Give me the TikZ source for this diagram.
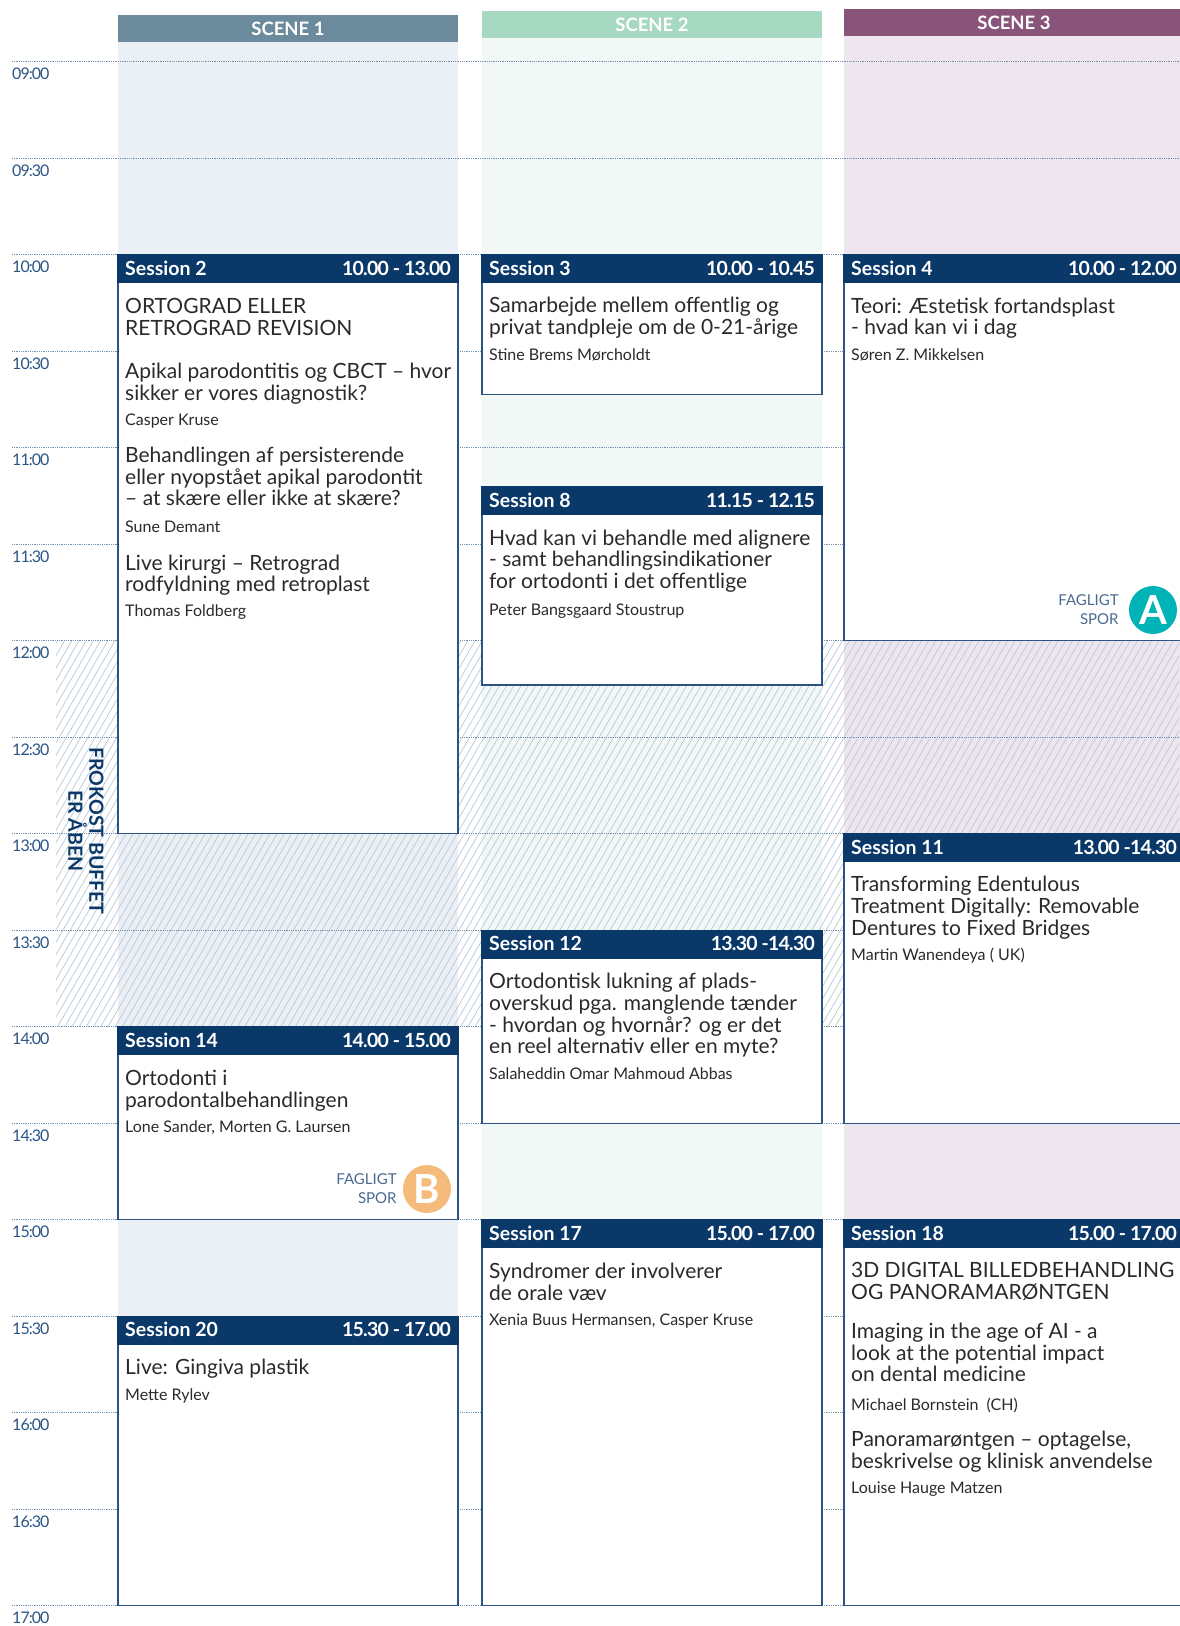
\documentclass[tikz,border=0pt]{standalone}
\usepackage{fontspec}
\setmainfont{Lato}
\usetikzlibrary{positioning}
\definecolor{navy}{HTML}{0A3868}
\definecolor{boxline}{HTML}{2C5384}
\definecolor{timeblue}{HTML}{2A5585}
\definecolor{gridgray}{HTML}{7590AE}
\definecolor{hdone}{HTML}{6B8A9B}
\definecolor{hdtwo}{HTML}{A7D8C1}
\definecolor{hdthree}{HTML}{895479}
\definecolor{bgone}{HTML}{EBF0F4}
\definecolor{bgtwo}{HTML}{F2F8F6}
\definecolor{bgthree}{HTML}{EEE6EE}
\definecolor{hatchblue}{HTML}{BCCADA}
\definecolor{ink}{HTML}{2A2A2A}
\definecolor{sporblue}{HTML}{4A6B8F}
\definecolor{sporteal}{HTML}{00B3B7}
\definecolor{spororange}{HTML}{F4BB7B}

\begin{document}
\begin{tikzpicture}[
    x=1pt, y=-1pt,
    timelabel/.style={anchor=base west, inner sep=0pt, text=timeblue,
        font=\fontsize{16}{16}\selectfont\addfontfeatures{LetterSpace=-6}},
    gridline/.style={gridgray, line width=0.9pt, dash pattern=on 0.9pt off 0.9pt},
    scenehead/.style={text=white, inner sep=0pt, font=\fontsize{18.5}{18.5}\selectfont\bfseries},
    sessbox/.style={draw=boxline, fill=white, line width=1.2pt},
    sessbar/.style={fill=navy},
    sessno/.style={anchor=base west, inner sep=0pt, text=white,
        font=\fontsize{19.5}{19.5}\selectfont\bfseries},
    sesstime/.style={anchor=base east, inner sep=0pt, text=white,
        font=\fontsize{19.5}{19.5}\selectfont\bfseries\addfontfeatures{LetterSpace=-4}},
    talk/.style={anchor=base west, inner sep=0pt, align=left, text=ink,
        font=\fontsize{21}{21.7}\selectfont},
    speaker/.style={anchor=base west, inner sep=0pt, text=ink, font=\fontsize{16}{16}\selectfont},
    hatch/.style={hatchblue, line width=0.75pt},
    spor/.style={inner sep=0pt, align=right, text=sporblue, font=\fontsize{15}{19}\selectfont},
    badge/.style={circle, minimum size=48pt, inner sep=0pt, text=white,
        font=\fontsize{40}{40}\selectfont\bfseries},
    lunch/.style={rotate=-90, align=center, text=navy, inner sep=0pt,
        font=\fontsize{19.5}{21}\selectfont\bfseries},
    ]
    \useasboundingbox (0,0) rectangle (1179,1626);

    % columns
    \fill[bgone] (118,42) rectangle (458,1605.7);
    \fill[bgtwo] (482,37.7) rectangle (822,1605.7);
    \fill[bgthree] (844,35.7) rectangle (1184,1605.7);
    \fill[hdone] (118,15) rectangle (458,42);
    \fill[hdtwo] (482,11) rectangle (822,37.7);
    \fill[hdthree] (844,9) rectangle (1184,35.7);
    \node[scenehead] (scene1) at (288,28.5) {SCENE 1};
    \node[scenehead] (scene2) at (652,24.4) {SCENE 2};
    \node[scenehead] (scene3) at (1014,22.4) {SCENE 3};

    % lunch hatch
    \begin{scope}
        \clip (56,640.7) rectangle (1179,1026.7);
        \foreach \i in {0,...,195}
            \draw[hatch] ({\i*7.2-180},1026.7) -- ++(223,-386);
    \end{scope}

    % time grid
    \foreach \t [count=\k from 0] in {09:00,09:30,10:00,10:30,11:00,11:30,12:00,12:30,
        13:00,13:30,14:00,14:30,15:00,15:30,16:00,16:30,17:00}{
        \draw[gridline] (12,{61.7+\k*96.5}) -- (1179,{61.7+\k*96.5});
        \node[timelabel] (time\k) at (12,{79.7+\k*96.5}) {\t};
    }

    % sessions
    \foreach \id/\xa/\ya/\yb/\tm in {
        2/118/254.7/833.7/{10.00 - 13.00},
        3/482/254.7/394.3/{10.00 - 10.45},
        4/844/254.7/640.7/{10.00 - 12.00},
        8/482/486.7/685/{11.15 - 12.15},
        11/844/833.7/1123.2/{13.00 -14.30},
        12/482/930.2/1123.2/{13.30 -14.30},
        14/118/1026.7/1219.7/{14.00 - 15.00},
        17/482/1219.7/1605.7/{15.00 - 17.00},
        18/844/1219.7/1605.7/{15.00 - 17.00},
        20/118/1316.2/1605.7/{15.30 - 17.00}}{
        \draw[sessbox] (\xa,\ya) rectangle ({\xa+340},\yb);
        \fill[sessbar] ({\xa-0.6},{\ya-0.6}) rectangle ({\xa+340.6},{\ya+28.5});
        \node[sessno] (no\id) at ({\xa+7},{\ya+20.5}) {Session \id};
        \node[sesstime] (tm\id) at ({\xa+333},{\ya+20.5}) {\tm};
    }

    % scene 1 (talk nodes sit on their last baseline)
    \node[talk] (s2a) at (125,335) {ORTOGRAD ELLER\\RETROGRAD REVISION};
    \node[talk] (s2b) at (125,400) {Apikal parodontitis og CBCT – hvor\\sikker er vores diagnostik?};
    \node[speaker] (s2b-who) at (125,425.3) {Casper Kruse};
    \node[talk] (s2c) at (125,505.7) {Behandlingen af persisterende\\eller nyopstået apikal parodontit\\– at skære eller ikke at skære?};
    \node[speaker] (s2c-who) at (125,532.7) {Sune Demant};
    \node[talk] (s2d) at (125,591.7) {Live kirurgi – Retrograd\\rodfyldning med retroplast};
    \node[speaker] (s2d-who) at (125,616.7) {Thomas Foldberg};
    \node[talk] (s14a) at (125,1107) {Ortodonti i\\parodontalbehandlingen};
    \node[speaker] (s14a-who) at (125,1132.5) {Lone Sander, Morten G. Laursen};
    \node[talk] (s20a) at (125,1374.8) {Live: Gingiva plastik};
    \node[speaker] (s20a-who) at (125,1400.3) {Mette Rylev};

    % scene 2
    \node[talk] (s3a) at (489,334.4) {Samarbejde mellem offentlig og\\privat tandpleje om de 0-21-årige};
    \node[speaker] (s3a-who) at (489,360) {Stine Brems Mørcholdt};
    \node[talk] (s8a) at (489,588.4) {Hvad kan vi behandle med alignere\\- samt behandlingsindikationer\\for ortodonti i det offentlige};
    \node[speaker] (s8a-who) at (489,615) {Peter Bangsgaard Stoustrup};
    \node[talk] (s12a) at (489,1053.9) {Ortodontisk lukning af plads-\\overskud pga. manglende tænder\\- hvordan og hvornår? og er det\\en reel alternativ eller en myte?};
    \node[speaker] (s12a-who) at (489,1079.5) {Salaheddin Omar Mahmoud Abbas};
    \node[talk] (s17a) at (489,1300) {Syndromer der involverer\\de orale væv};
    \node[speaker] (s17a-who) at (489,1325.5) {Xenia Buus Hermansen, Casper Kruse};

    % scene 3
    \node[talk] (s4a) at (851,334.7) {Teori: Æstetisk fortandsplast\\- hvad kan vi i dag};
    \node[speaker] (s4a-who) at (851,360) {Søren Z. Mikkelsen};
    \node[talk] (s11a) at (851,935.1) {Transforming Edentulous\\Treatment Digitally: Removable\\Dentures to Fixed Bridges};
    \node[speaker] (s11a-who) at (851,960) {Martin Wanendeya ( UK)};
    \node[talk] (s18a) at (851,1299) {3D DIGITAL BILLEDBEHANDLING\\OG PANORAMARØNTGEN};
    \node[talk] (s18b) at (851,1381.7) {Imaging in the age of AI - a\\look at the potential impact\\on dental medicine};
    \node[speaker] (s18b-who) at (851,1410) {Michael Bornstein~~(CH)};
    \node[talk] (s18c) at (851,1468.4) {Panoramarøntgen – optagelse,\\beskrivelse og klinisk anvendelse};
    \node[speaker] (s18c-who) at (851,1493.3) {Louise Hauge Matzen};

    % tracks
    \node[badge, fill=sporteal] (sporA) at (1153,610) {A};
    \node[spor, left=10pt of sporA] (sporAtxt) {FAGLIGT\\SPOR};
    \node[badge, fill=spororange] (sporB) at (427,1189) {B};
    \node[spor, left=6pt of sporB] (sporBtxt) {FAGLIGT\\SPOR};

    \node[lunch] (lunch) at (86,831) {FROKOST BUFFET\\ER ÅBEN};
\end{tikzpicture}
\end{document}
